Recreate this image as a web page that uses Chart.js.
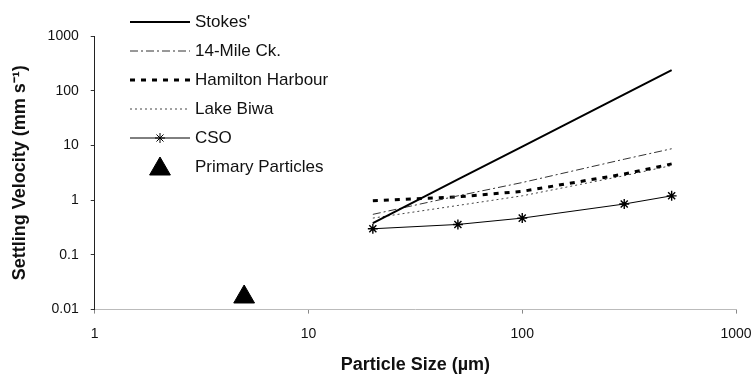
<!DOCTYPE html>
<html>
<head>
<meta charset="utf-8">
<script src="https://cdn.jsdelivr.net/npm/chart.js@4.4.1/dist/chart.umd.min.js"></script>
<style>
  html, body { margin: 0; padding: 0; background: #fff; }
  #wrap { width: 756px; height: 378px; }
</style>
</head>
<body>
<div id="wrap"><canvas id="chart"></canvas></div>
<script>
// particle sizes (um) and settling velocities (mm/s)
const sizes = [20, 50, 100, 300, 500];
const stokes = [0.38, 2.4, 9.5, 86, 238];
const mileCk = [0.55, 1.2, 2.1, 5.6, 8.7];
const hamilton = [0.98, 1.15, 1.45, 3.0, 4.6];
const biwa = [0.47, 0.8, 1.2, 2.8, 4.3];
const cso = [0.3, 0.36, 0.47, 0.85, 1.2];
const primarySize = [5];
const primaryVel = [0.017];

const xTicks = [1, 10, 100, 1000];
const yTicks = [0.01, 0.1, 1, 10, 100, 1000];

function pts(xs, ys) {
    return xs.map((x, i) => ({x: x, y: ys[i]}));
}

const FONT = "'Liberation Sans', Arial, sans-serif";

// legend drawn by hand, it sits over the top-left of the plot
const legendPlugin = {
    id: 'handLegend',
    afterDraw(chart) {
        const c = chart.ctx;
        chart.data.datasets.forEach((ds, i) => {
            const y = 22 + i * 29;
            c.save();
            if (ds.showLine !== false) {
                c.strokeStyle = ds.borderColor;
                c.lineWidth = ds.borderWidth;
                c.setLineDash(ds.borderDash || []);
                c.beginPath();
                c.moveTo(130, y);
                c.lineTo(190, y);
                c.stroke();
            }
            c.setLineDash([]);
            if (ds.label === 'CSO') {
                Chart.helpers.drawPoint(c, {pointStyle: 'star', radius: 5, borderWidth: 1.2}, 160, y);
            }
            if (ds.label === 'Primary Particles') {
                c.fillStyle = '#000';
                Chart.helpers.drawPoint(c, {pointStyle: 'triangle', radius: 12, borderWidth: 1}, 160, y + 2);
            }
            c.fillStyle = '#111';
            c.font = '17px ' + FONT;
            c.textBaseline = 'middle';
            c.fillText(ds.label, 195, y);
            c.restore();
        });
    }
};

new Chart(document.getElementById('chart'), {
    type: 'scatter',
    data: {
        datasets: [
            {label: "Stokes'", data: pts(sizes, stokes), showLine: true, borderColor: '#000', borderWidth: 2, pointRadius: 0},
            {label: '14-Mile Ck.', data: pts(sizes, mileCk), showLine: true, borderColor: '#333', borderWidth: 1, borderDash: [8, 3, 2, 3], pointRadius: 0},
            {label: 'Hamilton Harbour', data: pts(sizes, hamilton), showLine: true, borderColor: '#000', borderWidth: 3, borderDash: [5, 6], pointRadius: 0},
            {label: 'Lake Biwa', data: pts(sizes, biwa), showLine: true, borderColor: '#444', borderWidth: 1, borderDash: [2, 3], pointRadius: 0},
            {label: 'CSO', data: pts(sizes, cso), showLine: true, borderColor: '#000', borderWidth: 1, pointStyle: 'star', pointRadius: 5, pointBorderColor: '#000', pointBorderWidth: 1.4},
            {label: 'Primary Particles', data: pts(primarySize, primaryVel), showLine: false, pointStyle: 'triangle', pointRadius: 12, backgroundColor: '#000', borderColor: '#000'}
        ]
    },
    options: {
        responsive: true,
        maintainAspectRatio: false,
        animation: false,
        layout: {padding: {left: 9, right: 0, top: 36, bottom: 2}},
        plugins: {
            legend: {display: false},
            tooltip: {enabled: false}
        },
        scales: {
            x: {
                type: 'logarithmic',
                min: 1,
                max: 1000,
                afterBuildTicks: scale => { scale.ticks = xTicks.map(v => ({value: v})); },
                // let the "1000" label hang a little further right
                afterFit: scale => { scale.paddingRight = 20; },
                ticks: {
                    color: '#111',
                    font: {family: FONT, size: 14},
                    padding: 12,
                    maxRotation: 0,
                    callback: v => String(v)
                },
                grid: {drawOnChartArea: false, tickLength: 4, color: '#888'},
                border: {color: '#bbb', width: 1, dash: [5, 14]},
                title: {display: true, text: 'Particle Size (\u00b5m)', color: '#111', font: {family: FONT, size: 18, weight: 'bold'}, padding: {top: 0, bottom: 0}}
            },
            y: {
                type: 'logarithmic',
                min: 0.01,
                max: 1000,
                afterBuildTicks: scale => { scale.ticks = yTicks.map(v => ({value: v})); },
                ticks: {
                    color: '#111',
                    font: {family: FONT, size: 14},
                    padding: 12,
                    callback: v => String(v)
                },
                grid: {drawOnChartArea: false, tickLength: 4, color: '#333'},
                border: {color: '#222', width: 1},
                title: {display: true, text: 'Settling Velocity (mm s\u207b\u00b9)', color: '#111', font: {family: FONT, size: 18, weight: 'bold'}, padding: {top: 0, bottom: 5}}
            }
        }
    },
    plugins: [legendPlugin]
});
</script>
</body>
</html>
